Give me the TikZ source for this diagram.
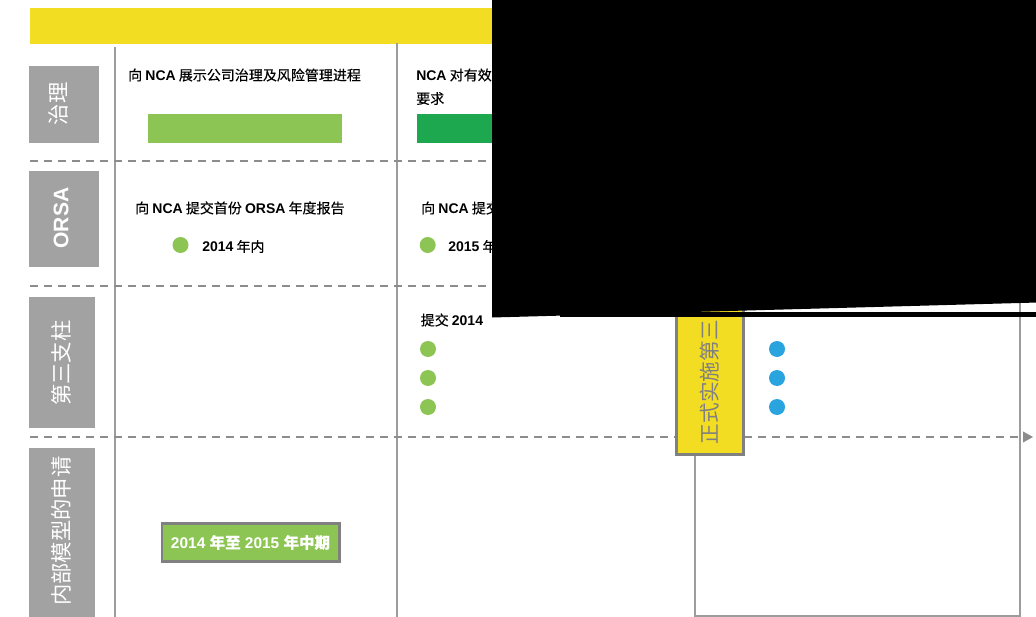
\documentclass[tikz,border=0pt]{standalone}
\usepackage{fontspec}
\newfontfamily\cjk{Noto Sans CJK SC}
\newfontfamily\cjkm[FakeBold=0.3]{Noto Sans CJK SC}
\newfontfamily\lat{Liberation Sans}
\usetikzlibrary{arrows.meta}
\definecolor{barY}{HTML}{F3DD22}
\definecolor{labG}{HTML}{A2A2A2}
\definecolor{lineG}{HTML}{9C9C9C}
\definecolor{dashG}{HTML}{8C8C8C}
\definecolor{boxG}{HTML}{808080}
\definecolor{lgreen}{HTML}{8CC554}
\definecolor{dgreen}{HTML}{1DA84F}
\definecolor{dblue}{HTML}{29A4DF}
\newcommand\latb[1]{{\lat\bfseries #1}}
\begin{document}
\begin{tikzpicture}[x=0.75pt,y=-0.75pt,
  txt/.style={anchor=west,inner sep=0pt,font=\cjkm\fontsize{10.5}{12}\selectfont,text=black},
  labtxt/.style={rotate=90,inner sep=0pt,text=white,font=\cjk\fontsize{16}{18}\selectfont},
  vline/.style={draw=lineG,line width=1.2pt},
  dline/.style={draw=dashG,line width=1.1pt,dash pattern=on 6pt off 4.5pt},
  gdot/.style={circle,inner sep=0pt,minimum size=12pt,fill=lgreen},
  bdot/.style={circle,inner sep=0pt,minimum size=12pt,fill=dblue},
]
\useasboundingbox (0,0) rectangle (1036,617);
% top bar
\fill[barY] (30,8) rectangle (1020,44);
% column lines
\coordinate (c1t) at (115,47); \coordinate (c1b) at (115,617);
\coordinate (c2t) at (397,43); \coordinate (c2b) at (397,617);
\coordinate (c3t) at (695,300); \coordinate (c3b) at (695,616);
\coordinate (c4t) at (1020,300); \coordinate (c4b) at (1020,616);
\draw[vline] (c1t) -- (c1b);
\draw[vline] (c2t) -- (c2b);
\draw[vline] (c3t) -- (c3b) -- (c4b) -- (c4t);
% dashed separators
\coordinate (d1a) at (30,161); \coordinate (d1b) at (1020,161);
\coordinate (d2a) at (30,286); \coordinate (d2b) at (1020,286);
\coordinate (d3a) at (30,437); \coordinate (d3b) at (1033,437);
\draw[dline] (d1a) -- (d1b);
\draw[dline] (d2a) -- (d2b);
\draw[dline,-{Triangle[length=7.5pt,width=8pt]}] (d3a) -- (d3b);
% row labels
\fill[labG] (29,66) rectangle (99,143);
\node[labtxt] (l1) at (58,104) {治理};
\fill[labG] (29,171) rectangle (99,267);
\node[labtxt,font=\lat\bfseries\fontsize{15.8}{18}\selectfont] (l2) at (61,218) {ORSA};
\fill[labG] (28.5,297) rectangle (94.5,427.5);
\node[labtxt] (l3) at (61,363) {第三支柱};
\fill[labG] (29,447.5) rectangle (94.5,617);
\node[labtxt] (l4) at (61,531) {内部模型的申请};
% governance row
\node[txt] (g1) at (128,75) {向 \latb{NCA} 展示公司治理及风险管理进程};
\fill[lgreen] (148,114) rectangle (342,142.7);
\node[txt] (g2) at (416,75) {\latb{NCA} 对有效};
\node[txt] (g3) at (416,98.5) {要求};
\fill[dgreen] (417,114) rectangle (600,142.7);
% ORSA row
\node[txt] (o1) at (135,208) {向 \latb{NCA} 提交首份 \latb{ORSA} 年度报告};
\node[gdot] (o2) at (180.5,245) {};
\node[txt] (o3) at (202,246.5) {\latb{2014} 年内};
\node[txt] (o4) at (421,208) {向 \latb{NCA} 提交};
\node[gdot] (o5) at (427.7,245) {};
\node[txt] (o6) at (448,246.5) {\latb{2015} 年};
% pillar 3 row
\node[txt] (p1) at (420.5,320) {提交 \latb{2014}};
\node[gdot] (p2) at (428,349) {};
\node[gdot] (p3) at (428,378) {};
\node[gdot] (p4) at (428,407) {};
\node[bdot] (p5) at (777,349) {};
\node[bdot] (p6) at (777,378) {};
\node[bdot] (p7) at (777,407) {};
% yellow milestone
\draw[fill=barY,draw=boxG,line width=1.8pt] (676.5,290) rectangle (743.5,454.5);
\node[rotate=90,anchor=west,inner sep=0pt,text=boxG,font=\cjk\fontsize{15.5}{17}\selectfont] (m1) at (710,444.5) {正式实施第三};
% internal model box
\node[draw=boxG,fill=lgreen,line width=2pt,minimum width=133pt,minimum height=28.5pt,inner sep=0pt,
  text=white,font=\lat\bfseries\fontsize{11.6}{13}\selectfont] (im) at (250.5,542.5) {2014 {\cjkm 年至} 2015 {\cjkm 年中期}};
% black occluder
\fill[black] (492,-2) -- (1038,-2) -- (1038,302.5) -- (492,317.5) -- cycle;
\fill[black] (560,312.3) rectangle (1038,316.6);
\end{tikzpicture}
\end{document}
